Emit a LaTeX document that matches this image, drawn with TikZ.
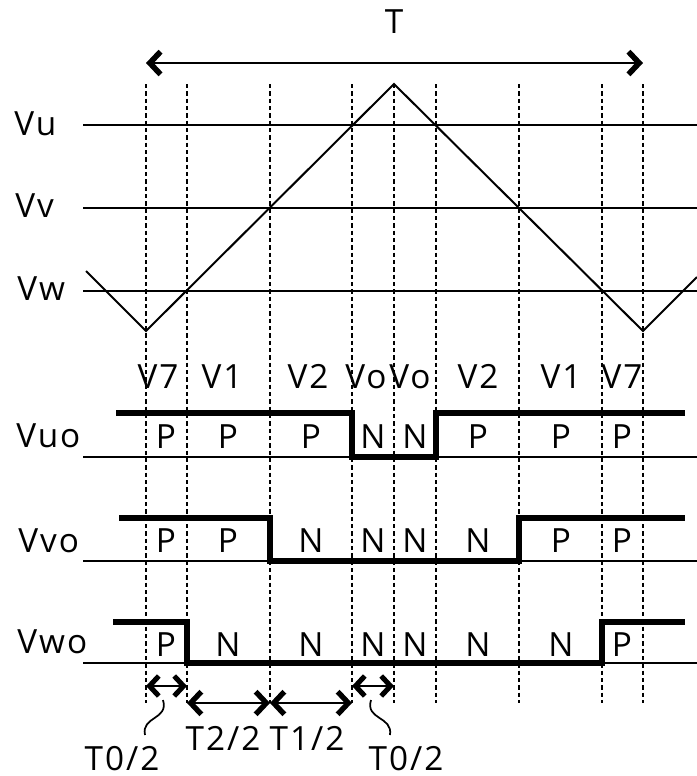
\documentclass[tikz,border=0pt]{standalone}
\usepackage{fontspec}
\setmainfont{Open Sans}[LetterSpace=6]
\usetikzlibrary{arrows.meta}
\tikzset{
  thinline/.style={line width=1.5pt},
  thickline/.style={line width=3.9pt, line join=miter},
  guide/.style={line width=1.4pt, dash pattern=on 3.2pt off 2.3pt},
  lbl/.style={inner sep=0pt, anchor=base},
  lblw/.style={inner sep=0pt, anchor=base west},
  bigtip/.tip={Straight Barb[length=8pt,width=17pt,line width=4.2pt 0]},
  midtip/.tip={Straight Barb[length=8pt,width=17pt,line width=4pt 0]},
  smalltip/.tip={Straight Barb[length=7pt,width=15pt,line width=3.8pt 0]},
  bigspan/.style={line width=1.5pt, bigtip-bigtip},
  midspan/.style={line width=1.2pt, midtip-midtip},
  smallspan/.style={line width=1.2pt, smalltip-smalltip},
  curly/.style={line width=1.3pt}
}
\begin{document}
\begin{tikzpicture}[x=0.75pt,y=-0.75pt,font=\fontsize{25}{29}\selectfont]
\useasboundingbox (0,0) rectangle (697,776);
% guides
\foreach \x in {146,187,270,352,394,436,519,602,643}
  \draw[guide] (\x,84) -- (\x,703);
% period arrow
\coordinate (tl) at (146,63);
\coordinate (tr) at (643,63);
\draw[bigspan] (tl) -- (tr);
\node[lbl] (tlab) at (394,33) {T};
% reference levels
\draw[thinline] (83,125) -- (697,125);
\draw[thinline] (83,208) -- (697,208);
\draw[thinline] (83,291) -- (697,291);
\node[lblw] (vu) at (14,135) {Vu};
\node[lblw] (vv) at (15,217) {Vv};
\node[lblw] (vw) at (17,300) {Vw};
% carrier
\draw[thinline] (86,271) -- (146,331) -- (394,84) -- (643,331) -- (697,277);
% vector labels
\node[lbl] (s1) at (158,388) {V7};
\node[lbl] (s2) at (222,388) {V1};
\node[lbl] (s3) at (308,388) {V2};
\node[lbl] (s4) at (366,388) {Vo};
\node[lbl] (s5) at (410,388) {Vo};
\node[lbl] (s6) at (478,388) {V2};
\node[lbl] (s7) at (561,388) {V1};
\node[lbl] (s8) at (622,388) {V7};
% Vuo
\node[lblw] (vuo) at (16,447) {Vuo};
\draw[thinline] (83,457) -- (697,457);
\draw[thickline] (116,413) -- (352,413) -- (352,457) -- (436,457) -- (436,413) -- (685,413);
% Vvo
\node[lblw] (vvo) at (18,552) {Vvo};
\draw[thinline] (83,561) -- (697,561);
\draw[thickline] (119,518) -- (270,518) -- (270,561) -- (519,561) -- (519,518) -- (685,518);
% Vwo
\node[lblw] (vwo) at (17,653) {Vwo};
\draw[thinline] (83,663) -- (697,663);
\draw[thickline] (113,622) -- (187,622) -- (187,663) -- (602,663) -- (602,622) -- (685,622);
% P / N labels
\foreach \x/\a/\b/\c [count=\i] in {166/P/P/P,228/P/P/N,311/P/N/N,373/N/N/N,415/N/N/N,478/P/N/N,561/P/P/N,622/P/P/P}{
  \node[lbl] (u\i) at (\x,448) {\a};
  \node[lbl] (v\i) at (\x,552) {\b};
  \node[lbl] (w\i) at (\x,656) {\c};
}
% interval arrows
\coordinate (a0) at (146,686);
\coordinate (a1) at (187,686);
\coordinate (b1) at (187,703);
\coordinate (b2) at (270,703);
\coordinate (b3) at (352,703);
\coordinate (c3) at (352,686);
\coordinate (c4) at (394,686);
\draw[smallspan] (a0) -- (a1);
\draw[midspan] (b1) -- (b2);
\draw[midspan] (b2) -- (b3);
\draw[smallspan] (c3) -- (c4);
% labels
\node[lbl] (t0a) at (122,770) {T0/2};
\node[lbl] (t2) at (223,750) {T2/2};
\node[lbl] (t1) at (307,750) {T1/2};
\node[lbl] (t0b) at (406,770) {T0/2};
\draw[curly] (163,700) .. controls (169,720) and (141,716) .. (145,735);
\draw[curly] (371,700) .. controls (365,720) and (393,716) .. (390,735);
\end{tikzpicture}
\end{document}
